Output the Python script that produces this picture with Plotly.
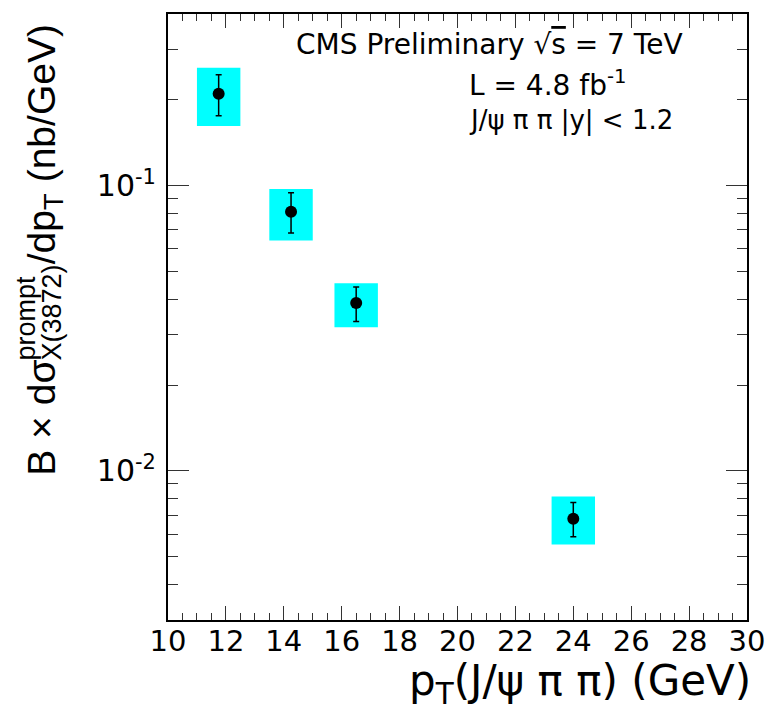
import math
import plotly.graph_objects as go

# Prompt X(3872) differential cross section times branching fraction
pt = [11.75, 14.25, 16.5, 24.0]                 # GeV
xsec = [0.210, 0.081, 0.0388, 0.0068]           # nb/GeV
stat_up = [0.035, 0.0134, 0.0053, 0.00094]
stat_dn = [0.034, 0.0128, 0.0054, 0.00092]
syst_up = [0.049, 0.0164, 0.0067, 0.00133]
syst_dn = [0.048, 0.0168, 0.0069, 0.00128]
box_halfwidth = 0.75                            # GeV, drawn width of systematic boxes

x_ticks = list(range(10, 31, 2))
y_ticks = [0.01, 0.1]
y_ticktext = ["10<sup>-2</sup>", "10<sup>-1</sup>"]
y_minor = [m * d for d in (0.001, 0.01, 0.1) for m in range(2, 10) if 0.003 <= m * d <= 0.4]

W, H = 777, 710
L, R, T, B = 168, 23, 13, 90
PW, PH = W - L - R, H - T - B

HFONT = "DejaVu Sans"
VFONT = "Liberation Sans"


def px_x(p):
    return (p - L) / PW


def px_y(p):
    return (H - B - p) / PH


fig = go.Figure()

# systematic uncertainty boxes
for x, y, su, sd in zip(pt, xsec, syst_up, syst_dn):
    fig.add_trace(go.Scatter(
        x=[x - box_halfwidth, x + box_halfwidth, x + box_halfwidth, x - box_halfwidth, x - box_halfwidth],
        y=[y - sd, y - sd, y + su, y + su, y - sd],
        mode="lines", fill="toself", fillcolor="#00FFFF",
        line=dict(color="#00FFFF", width=0), hoverinfo="skip", showlegend=False,
    ))

# measured points with statistical errors
fig.add_trace(go.Scatter(
    x=pt, y=xsec, mode="markers",
    marker=dict(color="black", size=12, symbol="circle"),
    error_y=dict(type="data", symmetric=False, array=stat_up, arrayminus=stat_dn,
                 color="black", thickness=1.5, width=3),
    showlegend=False,
))

axis_common = dict(
    showgrid=False, zeroline=False, showline=True, linecolor="black", linewidth=2,
    ticks="inside", mirror="ticks", tickcolor="#333333", tickwidth=1,
)

fig.update_layout(
    width=W, height=H,
    margin=dict(l=L, r=R, t=T, b=B),
    paper_bgcolor="white", plot_bgcolor="white",
    xaxis=dict(
        range=[10, 30], tickvals=x_ticks, ticklen=14,
        tickfont=dict(family=HFONT, size=29, color="black"),
        ticklabelstandoff=-6,
        minor=dict(dtick=0.5, tick0=10, ticklen=7, ticks="inside", tickcolor="#333333", tickwidth=1),
        **axis_common,
    ),
    yaxis=dict(
        type="log", range=[math.log10(0.003), math.log10(0.4)],
        tickvals=y_ticks, ticktext=y_ticktext, ticklen=21,
        tickfont=dict(family=HFONT, size=30, color="black"),
        ticklabelstandoff=4,
        minor=dict(tickvals=y_minor, ticklen=10, ticks="inside", tickcolor="#333333", tickwidth=1),
        **axis_common,
    ),
)


def note(text, xp, yp, xanchor, yanchor, family, size, angle=0):
    return dict(text=text, x=px_x(xp), y=px_y(yp), xref="paper", yref="paper",
                xanchor=xanchor, yanchor=yanchor, textangle=angle, showarrow=False,
                font=dict(family=family, size=size, color="black"))


ann = []
# x-axis title
ann.append(note("p<sub>T</sub>(J/ψ π π) (GeV)", 760, 684, "right", "middle", HFONT, 42))

# y-axis title, laid out piece by piece (bottom to top) so that the
# superscript and subscript of dσ sit on top of each other
ymain = 39
ysmall = 27
y0 = 478
em_main = 2.98      # "B × dσ"
em_stack = 3.56     # "X(3872)"
em_dp = 1.39        # "/dp"
em_t = 0.61         # subscript "T"
em_sp = 0.28        # space
ya = y0
yb = ya - em_main * ymain
yc = yb - em_stack * ysmall
yd = yc - em_dp * ymain - em_t * ysmall - em_sp * ymain
ann.append(note("B × dσ", 40, ya, "center", "bottom", VFONT, ymain, -90))
ann.append(note("prompt", 24, yb, "center", "bottom", VFONT, ysmall, -90))
ann.append(note("X(3872)", 51, yb, "center", "bottom", VFONT, ysmall, -90))
ann.append(note("/dp<sub>T</sub>", 43, yc, "center", "bottom", VFONT, ymain, -90))
ann.append(note("(nb/GeV)", 40, yd, "center", "bottom", VFONT, ymain, -90))

# header text
ann.append(note("CMS Preliminary √<span style='text-decoration:overline'>s</span> = 7 TeV",
                296, 44, "left", "middle", HFONT, 28))
ann.append(note("L = 4.8 fb<sup>-1</sup>", 471, 83, "left", "middle", HFONT, 28))
ann.append(note("J/ψ π π |y| < 1.2", 471, 120, "left", "middle", HFONT, 26))

fig.update_layout(annotations=ann)
fig.write_html("out.html")
